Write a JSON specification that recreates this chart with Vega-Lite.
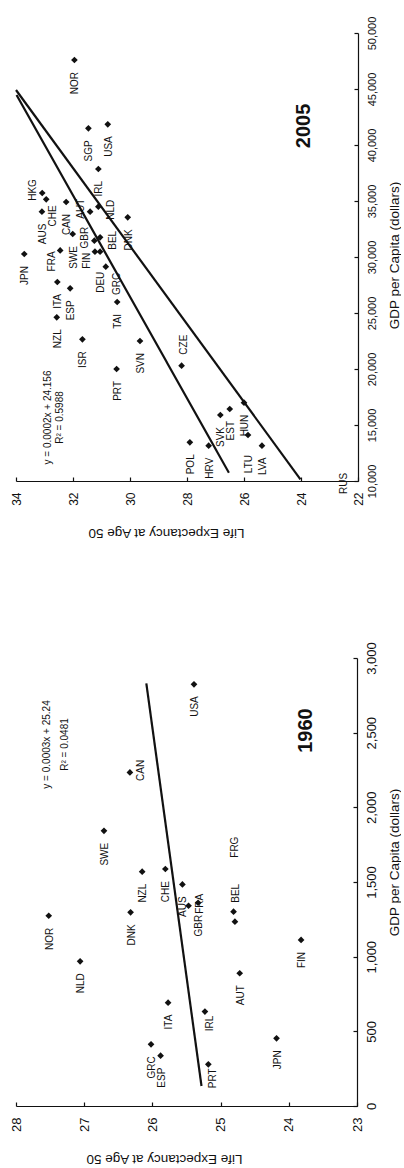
{
  "$schema": "https://vega.github.io/schema/vega-lite/v6.json",
  "padding": {"left": 9, "top": 16, "right": 0, "bottom": 0},
  "background": "white",
  "spacing": 177,
  "bounds": "flush",
  "config": {
    "view": {"stroke": null},
    "font": "Liberation Sans",
    "axis": {
      "grid": false,
      "domainColor": "#111111",
      "domainWidth": 1.2,
      "tickColor": "#111111",
      "tickWidth": 1.2,
      "tickSize": -4,
      "labelPadding": 15,
      "labelColor": "#111111",
      "labelAngle": -90,
      "labelFont": "Liberation Sans",
      "titleFont": "Liberation Sans",
      "titleColor": "#111111",
      "titleFontWeight": "normal",
      "titleFontSize": 13.5
    }
  },
  "datasets": {
    "gdp2005": [
      {"country": "NOR", "le": 31.95, "gdp": 47590},
      {"country": "SGP", "le": 31.46, "gdp": 41493},
      {"country": "USA", "le": 30.78, "gdp": 41850},
      {"country": "IRL", "le": 31.11, "gdp": 37858},
      {"country": "HKG", "le": 33.08, "gdp": 35716},
      {"country": "CHE", "le": 32.94, "gdp": 35153},
      {"country": "AUS", "le": 33.09, "gdp": 34047},
      {"country": "CAN", "le": 32.24, "gdp": 34912},
      {"country": "AUT", "le": 31.40, "gdp": 34047},
      {"country": "NLD", "le": 31.11, "gdp": 34493},
      {"country": "DNK", "le": 30.08, "gdp": 33546},
      {"country": "SWE", "le": 32.01, "gdp": 32055},
      {"country": "FRA", "le": 32.45, "gdp": 30590},
      {"country": "JPN", "le": 33.71, "gdp": 30269},
      {"country": "GBR", "le": 31.25, "gdp": 31457},
      {"country": "BEL", "le": 31.05, "gdp": 31760},
      {"country": "FIN", "le": 31.23, "gdp": 30474},
      {"country": "DEU", "le": 31.05, "gdp": 30474},
      {"country": "GRC", "le": 30.85, "gdp": 29135},
      {"country": "ITA", "le": 32.55, "gdp": 27769},
      {"country": "ESP", "le": 32.10, "gdp": 27206},
      {"country": "NZL", "le": 32.57, "gdp": 24617},
      {"country": "ISR", "le": 31.67, "gdp": 22652},
      {"country": "TAI", "le": 30.45, "gdp": 25983},
      {"country": "SVN", "le": 29.65, "gdp": 22501},
      {"country": "PRT", "le": 30.47, "gdp": 20000},
      {"country": "CZE", "le": 28.19, "gdp": 20295},
      {"country": "POL", "le": 27.90, "gdp": 13456},
      {"country": "HRV", "le": 27.24, "gdp": 13152},
      {"country": "SVK", "le": 26.83, "gdp": 15893},
      {"country": "EST", "le": 26.50, "gdp": 16429},
      {"country": "HUN", "le": 26.00, "gdp": 16991},
      {"country": "LTU", "le": 25.86, "gdp": 14107},
      {"country": "LVA", "le": 25.37, "gdp": 13152},
      {"country": "RUS", "le": 22.10, "gdp": 9700}
    ],
    "gdp1960": [
      {"country": "USA", "le": 25.39, "gdp": 2824},
      {"country": "CAN", "le": 26.33, "gdp": 2234},
      {"country": "SWE", "le": 26.71, "gdp": 1843},
      {"country": "NOR", "le": 27.52, "gdp": 1274},
      {"country": "NLD", "le": 27.06, "gdp": 969},
      {"country": "DNK", "le": 26.32, "gdp": 1297},
      {"country": "NZL", "le": 26.15, "gdp": 1569},
      {"country": "CHE", "le": 25.81, "gdp": 1587},
      {"country": "AUS", "le": 25.56, "gdp": 1484},
      {"country": "GBR", "le": 25.33, "gdp": 1361},
      {"country": "FRA", "le": 25.47, "gdp": 1341},
      {"country": "BEL", "le": 24.81, "gdp": 1301},
      {"country": "FRG", "le": 24.79, "gdp": 1234},
      {"country": "FIN", "le": 23.82, "gdp": 1112},
      {"country": "AUT", "le": 24.72, "gdp": 889},
      {"country": "ITA", "le": 25.77, "gdp": 692},
      {"country": "IRL", "le": 25.23, "gdp": 632},
      {"country": "GRC", "le": 26.02, "gdp": 413},
      {"country": "ESP", "le": 25.88, "gdp": 337},
      {"country": "PRT", "le": 25.18, "gdp": 279},
      {"country": "JPN", "le": 24.18, "gdp": 453}
    ],
    "trend2005": [
      {"fit": "shown", "le": 26.53, "gdp": 10741},
      {"fit": "shown", "le": 33.98, "gdp": 44470},
      {"fit": "other", "le": 24.02, "gdp": 10152},
      {"fit": "other", "le": 34.0, "gdp": 44911}
    ],
    "trend1960": [
      {"fit": "shown", "le": 25.28, "gdp": 134},
      {"fit": "shown", "le": 26.089, "gdp": 2830}
    ]
  },
  "vconcat": [
    {
      "width": 342,
      "height": 448,
      "encoding": {
        "x": {
          "field": "le", "type": "quantitative",
          "scale": {"domain": [22, 34], "reverse": true, "nice": false, "zero": false},
          "axis": {
            "values": [22, 24, 26, 28, 30, 32, 34], "format": "d",
            "labelFontSize": 12, "labelAlign": "right", "labelBaseline": "middle",
            "title": "Life Expectancy at Age 50", "titleAngle": 180,
            "titleAlign": "center", "titleBaseline": "middle", "titleX": 150, "titleY": 51
          }
        },
        "y": {
          "field": "gdp", "type": "quantitative",
          "scale": {"domain": [10000, 50000], "nice": false, "zero": false},
          "axis": {
            "orient": "right",
            "values": [10000, 15000, 20000, 25000, 30000, 35000, 40000, 45000, 50000], "format": ",d",
            "labelFontSize": 11, "labelAlign": "center", "labelBaseline": "top", "labelPadding": 12,
            "title": "GDP per Capita (dollars)", "titleAngle": -90,
            "titleAlign": "center", "titleBaseline": "middle", "titleX": 36, "titleY": 222
          }
        }
      },
      "layer": [
        {
          "data": {"name": "trend2005"},
          "mark": {"type": "line", "color": "#111111", "strokeWidth": 2.2},
          "encoding": {"detail": {"field": "fit"}}
        },
        {
          "data": {"name": "gdp2005"},
          "mark": {"type": "point", "shape": "diamond", "filled": true, "color": "#111111", "size": 45, "opacity": 1, "clip": true}
        },
        {
          "data": {"name": "gdp2005"},
          "transform": [{"filter": {"field": "country", "oneOf": ["NOR", "SGP", "USA", "IRL", "AUS", "CAN", "DNK", "SWE", "JPN", "ITA", "ESP", "NZL", "ISR", "TAI", "SVN", "PRT", "POL", "HRV", "SVK", "EST", "HUN", "LVA"]}}],
          "mark": {"type": "text", "angle": -90, "align": "right", "baseline": "middle", "dx": -12, "dy": 1, "fontSize": 10, "color": "#111111"},
          "encoding": {"text": {"field": "country"}}
        },
        {
          "data": {"name": "gdp2005"},
          "transform": [{"filter": {"field": "country", "oneOf": ["HKG", "AUT", "GBR"]}}],
          "mark": {"type": "text", "angle": -90, "align": "center", "baseline": "middle", "dx": 3, "dy": -9, "fontSize": 10, "color": "#111111"},
          "encoding": {"text": {"field": "country"}}
        },
        {
          "data": {"name": "gdp2005"},
          "transform": [{"filter": {"field": "country", "oneOf": ["RUS"]}}],
          "mark": {"type": "text", "angle": -90, "align": "center", "baseline": "middle", "dx": 1, "dy": -11, "fontSize": 10, "color": "#111111"},
          "encoding": {"text": {"field": "country"}}
        },
        {
          "data": {"name": "gdp2005"},
          "transform": [{"filter": {"field": "country", "oneOf": ["NLD", "BEL"]}}],
          "mark": {"type": "text", "angle": -90, "align": "center", "baseline": "middle", "dx": -3, "dy": 13, "fontSize": 10, "color": "#111111"},
          "encoding": {"text": {"field": "country"}}
        },
        {
          "data": {"name": "gdp2005"},
          "transform": [{"filter": {"field": "country", "oneOf": ["FRA", "FIN"]}}],
          "mark": {"type": "text", "angle": -90, "align": "right", "baseline": "middle", "dx": -1, "dy": -8, "fontSize": 10, "color": "#111111"},
          "encoding": {"text": {"field": "country"}}
        },
        {
          "data": {"name": "gdp2005"},
          "transform": [{"filter": {"field": "country", "oneOf": ["CHE"]}}],
          "mark": {"type": "text", "angle": -90, "align": "right", "baseline": "middle", "dx": -6, "dy": 7, "fontSize": 10, "color": "#111111"},
          "encoding": {"text": {"field": "country"}}
        },
        {
          "data": {"name": "gdp2005"},
          "transform": [{"filter": {"field": "country", "oneOf": ["GRC"]}}],
          "mark": {"type": "text", "angle": -90, "align": "right", "baseline": "middle", "dx": -6, "dy": 11, "fontSize": 10, "color": "#111111"},
          "encoding": {"text": {"field": "country"}}
        },
        {
          "data": {"name": "gdp2005"},
          "transform": [{"filter": {"field": "country", "oneOf": ["DEU", "LTU"]}}],
          "mark": {"type": "text", "angle": -90, "align": "right", "baseline": "middle", "dx": -20, "dy": 1, "fontSize": 10, "color": "#111111"},
          "encoding": {"text": {"field": "country"}}
        },
        {
          "data": {"name": "gdp2005"},
          "transform": [{"filter": {"field": "country", "oneOf": ["CZE"]}}],
          "mark": {"type": "text", "angle": -90, "align": "left", "baseline": "middle", "dx": 11, "dy": 2, "fontSize": 10, "color": "#111111"},
          "encoding": {"text": {"field": "country"}}
        },
        {
          "data": {"values": [{"le": 32.88, "gdp": 15670, "note": "y = 0.0002x + 24.156\nR² = 0.5988"}]},
          "mark": {"type": "text", "angle": -90, "align": "center", "baseline": "middle", "lineBreak": "\n", "lineHeight": 12, "fontSize": 10, "color": "#111111"},
          "encoding": {"text": {"field": "note"}}
        },
        {
          "data": {"values": [{"le": 23.89, "gdp": 41698, "note": "2005"}]},
          "mark": {"type": "text", "angle": -90, "align": "center", "baseline": "middle", "fontSize": 20, "fontWeight": "bold", "color": "#111111"},
          "encoding": {"text": {"field": "note"}}
        }
      ]
    },
    {
      "width": 341,
      "height": 448,
      "encoding": {
        "x": {
          "field": "le", "type": "quantitative",
          "scale": {"domain": [23, 28], "reverse": true, "nice": false, "zero": false},
          "axis": {
            "values": [23, 24, 25, 26, 27, 28], "format": "d",
            "labelFontSize": 13, "labelAlign": "right", "labelBaseline": "middle",
            "title": "Life Expectancy at Age 50", "titleAngle": 180,
            "titleAlign": "center", "titleBaseline": "middle", "titleX": 148, "titleY": 52
          }
        },
        "y": {
          "field": "gdp", "type": "quantitative",
          "scale": {"domain": [0, 3000], "nice": false, "zero": false},
          "axis": {
            "orient": "right",
            "values": [0, 500, 1000, 1500, 2000, 2500, 3000], "format": ",d",
            "labelFontSize": 13, "labelAlign": "center", "labelBaseline": "top", "labelPadding": 12,
            "title": "GDP per Capita (dollars)", "titleAngle": -90,
            "titleAlign": "center", "titleBaseline": "middle", "titleX": 37, "titleY": 204
          }
        }
      },
      "layer": [
        {
          "data": {"name": "trend1960"},
          "mark": {"type": "line", "color": "#111111", "strokeWidth": 2.2},
          "encoding": {"detail": {"field": "fit"}}
        },
        {
          "data": {"name": "gdp1960"},
          "mark": {"type": "point", "shape": "diamond", "filled": true, "color": "#111111", "size": 45, "opacity": 1}
        },
        {
          "data": {"name": "gdp1960"},
          "transform": [{"filter": {"field": "country", "oneOf": ["USA", "SWE", "NOR", "NLD", "DNK", "NZL", "CHE", "AUS", "GBR", "FIN", "AUT", "ITA", "GRC", "ESP", "JPN"]}}],
          "mark": {"type": "text", "angle": -90, "align": "right", "baseline": "middle", "dx": -12, "dy": 1, "fontSize": 10, "color": "#111111"},
          "encoding": {"text": {"field": "country"}}
        },
        {
          "data": {"name": "gdp1960"},
          "transform": [{"filter": {"field": "country", "oneOf": ["CAN", "FRA"]}}],
          "mark": {"type": "text", "angle": -90, "align": "center", "baseline": "middle", "dx": 2, "dy": 11, "fontSize": 10, "color": "#111111"},
          "encoding": {"text": {"field": "country"}}
        },
        {
          "data": {"name": "gdp1960"},
          "transform": [{"filter": {"field": "country", "oneOf": ["BEL"]}}],
          "mark": {"type": "text", "angle": -90, "align": "left", "baseline": "middle", "dx": 9, "dy": 2, "fontSize": 10, "color": "#111111"},
          "encoding": {"text": {"field": "country"}}
        },
        {
          "data": {"name": "gdp1960"},
          "transform": [{"filter": {"field": "country", "oneOf": ["FRG"]}}],
          "mark": {"type": "text", "angle": -90, "align": "left", "baseline": "middle", "dx": 64, "dy": 0, "fontSize": 10, "color": "#111111"},
          "encoding": {"text": {"field": "country"}}
        },
        {
          "data": {"name": "gdp1960"},
          "transform": [{"filter": {"field": "country", "oneOf": ["IRL", "PRT"]}}],
          "mark": {"type": "text", "angle": -90, "align": "right", "baseline": "middle", "dx": -4, "dy": 5, "fontSize": 10, "color": "#111111"},
          "encoding": {"text": {"field": "country"}}
        },
        {
          "data": {"values": [{"le": 27.54, "gdp": 2421, "note": "y = 0.0003x +  25.24\nR² = 0.0481"}]},
          "mark": {"type": "text", "angle": -90, "align": "center", "baseline": "middle", "lineBreak": "\n", "lineHeight": 18, "fontSize": 10, "color": "#111111"},
          "encoding": {"text": {"field": "note"}}
        },
        {
          "data": {"values": [{"le": 23.75, "gdp": 2514, "note": "1960"}]},
          "mark": {"type": "text", "angle": -90, "align": "center", "baseline": "middle", "fontSize": 20, "fontWeight": "bold", "color": "#111111"},
          "encoding": {"text": {"field": "note"}}
        }
      ]
    }
  ]
}
